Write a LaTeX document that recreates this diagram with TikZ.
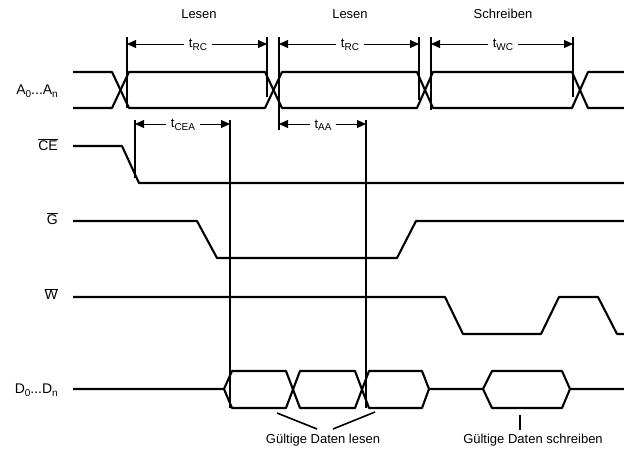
\documentclass[tikz,border=0pt]{standalone}
\usepackage{fontspec}
\setmainfont{Liberation Sans}
\usetikzlibrary{arrows.meta}
\newcommand\mysb[1]{\raisebox{-0.35ex}{\fontsize{10}{12}\selectfont #1}}
\begin{document}
\begin{tikzpicture}[x=1pt,y=-1pt,
  sig/.style={line width=2.1pt, line join=round},
  vline/.style={line width=1.7pt},
  dim/.style={line width=0.9pt, {Triangle[length=9pt,width=8pt]}-{Triangle[length=9pt,width=8pt]}},
  ptr/.style={line width=1.6pt},
  lbl/.style={font=\fontsize{14}{16}\selectfont, anchor=east, inner sep=0pt},
  ttl/.style={font=\fontsize{13}{15}\selectfont, inner sep=0pt},
  tlab/.style={font=\fontsize{13}{15}\selectfont, fill=white, inner xsep=5pt, inner ysep=1pt}]
\useasboundingbox (0,0) rectangle (624,448);

% titles
\node[ttl] (l1) at (199,14) {Lesen};
\node[ttl] (l2) at (350,14) {Lesen};
\node[ttl] (s1) at (503,14) {Schreiben};

% signal labels
\node[lbl] (A) at (58,91) {A\mysb{0}...A\mysb{n}};
\node[lbl] (CE) at (58,145) {$\overline{\mbox{CE}}$};
\node[lbl] (G) at (58,219) {$\overline{\mbox{G}}$};
\node[lbl] (W) at (58,294) {$\overline{\mbox{W}}$};
\node[lbl] (D) at (58,390) {D\mysb{0}...D\mysb{n}};

% address bus
\draw[sig] (73,72) -- (112,72) -- (129,108) -- (265,108) -- (282,72) -- (417,72) -- (433,108) -- (572,108) -- (588,72) -- (624,72);
\draw[sig] (73,108) -- (112,108) -- (129,72) -- (265,72) -- (282,108) -- (417,108) -- (433,72) -- (572,72) -- (588,108) -- (624,108);

% CE
\draw[sig] (73,146) -- (122,146) -- (139,183) -- (624,183);
% G
\draw[sig] (73,221) -- (197,221) -- (217,258) -- (397,258) -- (416,221) -- (624,221);
% W
\draw[sig] (73,297) -- (445,297) -- (463,334) -- (541,334) -- (559,297) -- (598,297) -- (617,334) -- (624,334);
% D
\draw[sig] (73,389) -- (224,389) -- (232,371) -- (286,371) -- (300,408) -- (355,408) -- (369,371) -- (422,371) -- (429,389) -- (483,389) -- (492,371) -- (562,371) -- (570,389) -- (624,389);
\draw[sig] (224,389) -- (232,408) -- (286,408) -- (300,371) -- (355,371) -- (369,408) -- (422,408) -- (429,389);
\draw[sig] (483,389) -- (492,408) -- (562,408) -- (570,389);

% reference coordinates
\coordinate (r1t) at (127,37); \coordinate (r1b) at (127,108);
\coordinate (r2t) at (267,37); \coordinate (r2b) at (267,97);
\coordinate (r3t) at (279,37); \coordinate (r3b) at (279,130);
\coordinate (r4t) at (419,37); \coordinate (r4b) at (419,100);
\coordinate (r5t) at (431,37); \coordinate (r5b) at (431,110);
\coordinate (r6t) at (573,37); \coordinate (r6b) at (573,97);
\coordinate (c1t) at (135,120); \coordinate (c1b) at (135,178);
\coordinate (c2t) at (230,120); \coordinate (c2b) at (230,408);
\coordinate (a2t) at (366,120); \coordinate (a2b) at (366,408);

\foreach \p in {r1,r2,r3,r4,r5,r6,c1,c2,a2}
  \draw[vline] (\p t) -- (\p b);

% dimension arrows
\coordinate (d1a) at (127,44); \coordinate (d1b) at (267,44);
\coordinate (d2a) at (279,44); \coordinate (d2b) at (419,44);
\coordinate (d3a) at (431,44); \coordinate (d3b) at (573,44);
\coordinate (d4a) at (135,124); \coordinate (d4b) at (230,124);
\coordinate (d5a) at (279,124); \coordinate (d5b) at (366,124);
\draw[dim] (d1a) -- (d1b);
\draw[dim] (d2a) -- (d2b);
\draw[dim] (d3a) -- (d3b);
\draw[dim] (d4a) -- (d4b);
\draw[dim] (d5a) -- (d5b);
\node[tlab] (trc1) at (198,45) {t\mysb{RC}};
\node[tlab] (trc2) at (350,45) {t\mysb{RC}};
\node[tlab] (twc) at (503,45) {t\mysb{WC}};
\node[tlab] (tcea) at (183,125) {t\mysb{CEA}};
\node[tlab] (taa) at (323,125) {t\mysb{AA}};

% bottom texts
\node[ttl] (gl) at (323,440) {Gültige Daten lesen};
\node[ttl] (gs) at (533,440) {Gültige Daten schreiben};
\coordinate (p1a) at (277,413); \coordinate (p1b) at (317,429);
\coordinate (p2a) at (375,412); \coordinate (p2b) at (333,429);
\coordinate (p3a) at (520,415); \coordinate (p3b) at (520,430);
\draw[ptr] (p1a) -- (p1b);
\draw[ptr] (p2a) -- (p2b);
\draw[ptr] (p3a) -- (p3b);
\end{tikzpicture}
\end{document}
